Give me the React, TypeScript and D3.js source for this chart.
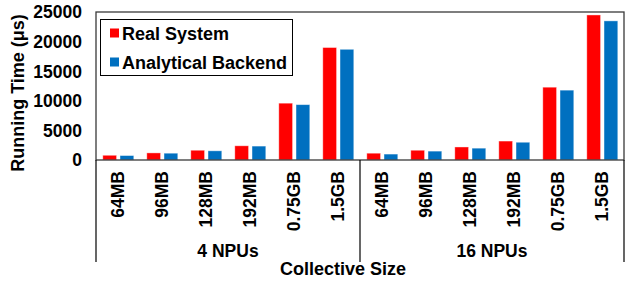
import { useEffect, useRef } from "react";
import * as d3 from "d3";

const groups = ["4 NPUs", "16 NPUs"];
const sizes = ["64MB", "96MB", "128MB", "192MB", "0.75GB", "1.5GB"];
const seriesNames = ["Real System", "Analytical Backend"];
const colors = ["#ff0000", "#0070c0"];
// running time in microseconds, per group, per size
const realSystem = [800, 1200, 1650, 2400, 9600, 19000, 1150, 1650, 2200, 3200, 12300, 24500];
const analytical = [750, 1150, 1550, 2350, 9350, 18700, 1000, 1500, 2000, 3000, 11800, 23500];
const yTicks = [0, 5000, 10000, 15000, 20000, 25000];

const W = 627;
const H = 285;
const font = "'Liberation Sans', Arial, Helvetica, sans-serif";

const App = () => {
  const svgRef = useRef<SVGSVGElement>(null);

  useEffect(() => {
    const margin = { top: 12, right: 3, bottom: 125, left: 96 };
    const x0 = margin.left;
    const x1 = W - margin.right;
    const yBase = H - margin.bottom;

    const svg = d3.select(svgRef.current);
    svg.selectAll("*").remove();

    const cats = groups.flatMap((g) => sizes.map((s) => `${g}|${s}`));
    const x = d3.scaleBand().domain(cats).range([x0, x1]).padding(0);
    const xs = d3
      .scaleBand()
      .domain(seriesNames)
      .range([6.8, x.bandwidth() - 6.2])
      .paddingInner(0.2);
    const y = d3.scaleLinear().domain([0, 25000]).range([yBase, margin.top]);

    const values = [realSystem, analytical];

    // bars
    seriesNames.forEach((name, si) => {
      svg
        .append("g")
        .selectAll("rect")
        .data(values[si])
        .join("rect")
        .attr("x", (_, i) => (x(cats[i]) as number) + (xs(name) as number))
        .attr("y", (d) => y(d))
        .attr("width", xs.bandwidth())
        .attr("height", (d) => yBase - y(d))
        .attr("fill", colors[si])
        .attr("stroke", "#ffffff")
        .attr("stroke-opacity", 0.5)
        .attr("stroke-width", 0.8);
    });

    // frame
    svg
      .append("rect")
      .attr("x", x0)
      .attr("y", margin.top)
      .attr("width", x1 - x0)
      .attr("height", yBase - margin.top)
      .attr("fill", "none")
      .attr("stroke", "#3a3a3a")
      .attr("stroke-width", 1.3);

    // group separators below axis
    const sepBottom = 262;
    [x0, x(cats[6]) as number, x1].forEach((sx) => {
      svg
        .append("line")
        .attr("x1", sx)
        .attr("x2", sx)
        .attr("y1", yBase)
        .attr("y2", sepBottom)
        .attr("stroke", "#000")
        .attr("stroke-width", 1.2);
    });

    // y ticks
    svg
      .append("g")
      .selectAll("text")
      .data(yTicks)
      .join("text")
      .attr("x", 82)
      .attr("y", (d) => y(d))
      .attr("dy", "0.36em")
      .attr("text-anchor", "end")
      .attr("font-family", font)
      .attr("font-weight", "bold")
      .attr("font-size", 17.5)
      .text((d) => String(d));

    // y title
    svg
      .append("text")
      .attr("transform", "translate(24,93) rotate(-90)")
      .attr("text-anchor", "middle")
      .attr("font-family", font)
      .attr("font-weight", "bold")
      .attr("font-size", 18)
      .text("Running Time (\u03bcs)");

    // category labels
    svg
      .append("g")
      .selectAll("text")
      .data(cats)
      .join("text")
      .attr("transform", (d) => {
        const cx = (x(d) as number) + x.bandwidth() / 2 + 6;
        return `translate(${cx},171) rotate(-90)`;
      })
      .attr("text-anchor", "end")
      .attr("font-family", font)
      .attr("font-weight", "bold")
      .attr("font-size", 17.5)
      .text((d) => d.split("|")[1]);

    // group labels
    svg
      .append("g")
      .selectAll("text")
      .data(groups)
      .join("text")
      .attr("x", (g) => {
        const a = x(`${g}|${sizes[0]}`) as number;
        const b = (x(`${g}|${sizes[sizes.length - 1]}`) as number) + x.bandwidth();
        return (a + b) / 2;
      })
      .attr("y", 257)
      .attr("text-anchor", "middle")
      .attr("font-family", font)
      .attr("font-weight", "bold")
      .attr("font-size", 17.5)
      .text((g) => g);

    svg
      .append("text")
      .attr("x", 343)
      .attr("y", 275)
      .attr("text-anchor", "middle")
      .attr("font-family", font)
      .attr("font-weight", "bold")
      .attr("font-size", 18)
      .text("Collective Size");

    // legend
    const legend = svg.append("g");
    legend
      .append("rect")
      .attr("x", 100.5)
      .attr("y", 19.5)
      .attr("width", 192)
      .attr("height", 56)
      .attr("fill", "#fff")
      .attr("stroke", "#000")
      .attr("stroke-width", 1);
    seriesNames.forEach((name, i) => {
      const cy = 33 + i * 29;
      legend
        .append("rect")
        .attr("x", 110)
        .attr("y", cy - 4.5)
        .attr("width", 9)
        .attr("height", 9)
        .attr("fill", colors[i]);
      legend
        .append("text")
        .attr("x", 122)
        .attr("y", cy + 6.5)
        .attr("font-family", font)
        .attr("font-weight", "bold")
        .attr("font-size", 18)
        .text(name);
    });
  }, []);

  return (
    <svg
      ref={svgRef}
      width={W}
      height={H}
      style={{ position: "absolute", left: 0, top: 0, background: "#fff" }}
    />
  );
};

export default App;
